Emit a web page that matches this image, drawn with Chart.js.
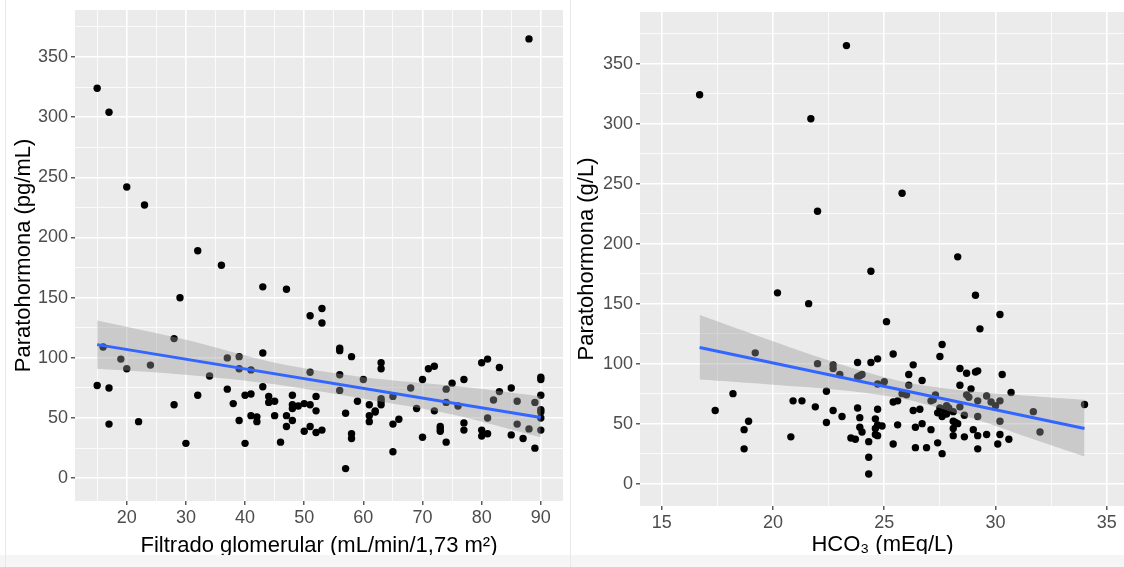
<!DOCTYPE html>
<html>
<head>
<meta charset="utf-8">
<script src="https://cdn.jsdelivr.net/npm/chart.js@4.4.1/dist/chart.umd.min.js"></script>
<style>
    html, body { margin: 0; padding: 0; background: #ffffff; width: 1124px; height: 567px; overflow: hidden; }
    body { position: relative; font-family: "Liberation Sans", Arial, sans-serif; }
    #leftBox { position: absolute; left: 6px; top: 0; width: 565px; height: 555px; }
    #rightBox { position: absolute; left: 571px; top: 0; width: 558px; height: 554px; }
    .strip { position: absolute; left: 0; top: 555px; width: 1124px; height: 12px; background: #f5f5f5; }
    .edge { position: absolute; top: 0; width: 1px; height: 567px; background: #e8e8e8; }
</style>
</head>
<body>
<div class="strip"></div>
<div class="edge" style="left:5px"></div>
<div class="edge" style="left:570px"></div>
<div id="leftBox"><canvas id="gfrChart"></canvas></div>
<div id="rightBox"><canvas id="hco3Chart"></canvas></div>

<script>
// Left panel: filtrado glomerular vs PTH
const gfrX = [88, 15, 17, 20, 23, 32, 36, 29, 43, 47, 51, 53, 53, 28, 15, 16, 17, 17, 19, 20,
    22, 24, 28, 30, 32, 34, 37, 37, 38, 39, 39, 39, 40, 40, 41, 41, 41, 42, 42, 43,
    43, 44, 44, 45, 45, 46, 47, 47, 48, 48, 48, 48, 49, 50, 50, 51, 51, 51, 52, 52,
    52, 53, 56, 56, 56, 56, 57, 57, 58, 58, 58, 59, 60, 61, 61, 61, 62, 62, 63, 63,
    63, 63, 63, 65, 65, 65, 66, 68, 69, 70, 70, 71, 72, 72, 73, 73, 73, 74, 74, 74,
    75, 76, 77, 77, 77, 80, 80, 80, 81, 81, 81, 82, 83, 83, 85, 85, 86, 86, 87, 88,
    89, 89, 90, 90, 90, 90, 90, 90, 90];
const gfrPth = [365, 324, 304, 242, 227, 189, 177, 150, 159, 157, 135, 141, 129, 116, 77, 109, 75, 45, 99, 91,
    47, 94, 61, 29, 69, 85, 100, 74, 62, 101, 91, 48, 69, 29, 70, 90, 52, 51, 47, 104,
    76, 68, 63, 64, 52, 30, 52, 43, 69, 61, 58, 48, 60, 62, 39, 88, 61, 43, 68, 56,
    38, 40, 108, 106, 86, 73, 54, 8, 101, 37, 33, 64, 82, 61, 52, 47, 56, 55, 96, 91,
    66, 64, 61, 68, 45, 22, 49, 75, 58, 82, 34, 91, 93, 56, 43, 41, 39, 74, 63, 30,
    79, 60, 82, 46, 40, 96, 40, 35, 99, 50, 37, 65, 92, 72, 75, 36, 64, 45, 33, 41,
    63, 25, 84, 82, 69, 57, 55, 50, 40];
const gfrFitX = [15, 90];
const gfrFitY = [111, 50.5];
const gfrBandX = [15, 30, 45, 60, 75, 90];
const gfrBandHigh = [131, 115, 96, 84, 77, 68];
const gfrBandLow = [91, 86, 78, 66, 53, 34];
const gfrMajor = [20, 30, 40, 50, 60, 70, 80, 90];
const gfrMinor = [15, 25, 35, 45, 55, 65, 75, 85];

// Right panel: HCO3 vs PTH
const hco3X = [23.3, 16.7, 21.7, 25.8, 22.0, 28.3, 24.4, 20.2, 29.1, 21.6, 30.2, 25.1, 29.3, 27.6, 25.4, 19.2,
    27.5, 22.0, 22.7, 22.7, 23.8, 24.4, 24.7, 26.3, 28.4, 23.0, 24.0, 23.8, 26.1, 28.7, 29.1, 29.2,
    30.3, 24.7, 25.0, 26.1, 26.7, 28.4, 28.9, 22.4, 18.2, 25.8, 26.0, 27.3, 28.7, 30.7, 29.6, 28.8,
    20.9, 21.3, 25.4, 25.6, 27.1, 27.2, 29.2, 29.8, 30.2, 34.0, 30.0, 27.8, 28.4, 21.9, 23.8, 24.7,
    26.3, 26.6, 22.7, 17.4, 27.5, 27.7, 27.9, 27.4, 27.8, 31.7, 28.1, 27.6, 28.6, 29.2, 23.1, 23.9,
    24.6, 18.9, 22.4, 28.1, 28.2, 30.2, 28.3, 26.7, 25.6, 24.7, 24.9, 23.9, 26.4, 28.1, 24.6, 18.7,
    29.0, 27.1, 24.0, 32.0, 29.6, 30.2, 24.6, 29.2, 28.1, 24.7, 20.8, 28.6, 23.5, 23.7, 30.6, 24.3,
    27.4, 25.4, 30.1, 26.4, 26.9, 18.7, 29.2, 27.6, 24.3, 24.3, 23.9];
const hco3Pth = [365, 324, 304, 242, 227, 189, 177, 159, 157, 150, 141, 135, 129, 116, 108, 109,
    106, 100, 99, 96, 101, 101, 104, 99, 96, 91, 91, 89, 91, 92, 93, 94,
    91, 83, 85, 82, 86, 82, 79, 77, 75, 75, 74, 74, 74, 76, 73, 72,
    69, 69, 68, 69, 69, 70, 69, 68, 69, 66, 65, 65, 64, 64, 63, 62,
    61, 62, 61, 61, 63, 61, 63, 59, 58, 60, 60, 56, 57, 56, 56, 55,
    54, 52, 51, 52, 51, 52, 50, 50, 49, 49, 48, 47, 47, 46, 46, 45,
    45, 45, 43, 43, 41, 41, 41, 40, 40, 40, 39, 39, 38, 37, 37, 35,
    34, 33, 33, 30, 30, 29, 29, 25, 22, 8, 90];
const hco3FitX = [16.7, 34];
const hco3FitY = [113.5, 46];
const hco3BandX = [16.7, 20, 23, 26, 29, 32, 34];
const hco3BandHigh = [140.5, 118.7, 99.7, 84.2, 76.7, 72.5, 70];
const hco3BandLow = [86.7, 82.5, 78.1, 70.2, 54.3, 35.1, 22.7];
const hco3Major = [15, 20, 25, 30, 35];
const hco3Minor = [17.5, 22.5, 27.5, 32.5];

const pthMajor = [0, 50, 100, 150, 200, 250, 300, 350];
const pthMinor = [25, 75, 125, 175, 225, 275, 325, 375];

const FONT = '"Liberation Sans", Arial, Helvetica, sans-serif';

// grey panel like ggplot
const panelBg = {
    id: 'panelBg',
    beforeDraw(chart) {
        const { ctx, chartArea } = chart;
        ctx.save();
        ctx.fillStyle = '#ebebeb';
        ctx.fillRect(chartArea.left, chartArea.top, chartArea.right - chartArea.left, chartArea.bottom - chartArea.top);
        ctx.restore();
    }
};

function toPoints(xs, ys) {
    return xs.map((x, i) => ({ x: x, y: ys[i] }));
}

function axis(major, minor, min, max, title, horizontal, boxSize, titlePad) {
    const all = major.concat(minor).sort((a, b) => a - b);
    return {
        type: 'linear',
        min: min,
        max: max,
        afterBuildTicks: scale => { scale.ticks = all.map(v => ({ value: v })); },
        afterFit: scale => {
            if (horizontal) scale.height = boxSize; else scale.width = boxSize;
            // keep the panel edges where they are
            scale.paddingLeft = 0; scale.paddingRight = 0;
            scale.paddingTop = 0; scale.paddingBottom = 0;
        },
        grid: {
            color: '#ffffff',
            lineWidth: c => major.includes(c.tick.value) ? 1.6 : 0.8,
            drawTicks: true,
            tickLength: 4,
            tickWidth: 1.2,
            tickColor: c => major.includes(c.tick.value) ? '#333333' : 'rgba(0,0,0,0)'
        },
        border: { display: false },
        ticks: {
            autoSkip: false,
            maxRotation: 0,
            padding: horizontal ? 2 : 3,
            color: '#4d4d4d',
            font: { family: FONT, size: 18 },
            callback: v => major.includes(v) ? String(v) : ''
        },
        title: {
            display: true,
            text: title,
            color: '#000000',
            padding: horizontal ? { top: 0, bottom: titlePad } : { top: titlePad, bottom: 0 },
            font: { family: FONT, size: 22, lineHeight: 1 }
        }
    };
}

function makeChart(id, pts, fitX, fitY, bandX, bandHigh, bandLow, xScale, yScale, pad) {
    return new Chart(document.getElementById(id), {
        type: 'scatter',
        data: {
            datasets: [
                {
                    data: toPoints(fitX, fitY),
                    showLine: true,
                    borderColor: '#3366ff',
                    borderWidth: 3,
                    pointRadius: 0
                },
                {
                    data: toPoints(bandX, bandHigh),
                    showLine: true,
                    borderWidth: 0,
                    borderColor: 'rgba(0,0,0,0)',
                    pointRadius: 0,
                    tension: 0.3,
                    backgroundColor: 'rgba(153,153,153,0.4)',
                    fill: '+1'
                },
                {
                    data: toPoints(bandX, bandLow),
                    showLine: true,
                    borderWidth: 0,
                    borderColor: 'rgba(0,0,0,0)',
                    tension: 0.3,
                    pointRadius: 0
                },
                {
                    data: pts,
                    pointRadius: 3.7,
                    pointBackgroundColor: '#000000',
                    pointBorderWidth: 0
                }
            ]
        },
        options: {
            responsive: true,
            maintainAspectRatio: false,
            devicePixelRatio: 1,
            animation: false,
            events: [],
            layout: { padding: pad },
            plugins: { legend: { display: false }, tooltip: { enabled: false } },
            scales: { x: xScale, y: yScale }
        },
        plugins: [panelBg]
    });
}

makeChart('gfrChart', toPoints(gfrX, gfrPth), gfrFitX, gfrFitY, gfrBandX, gfrBandHigh, gfrBandLow,
    axis(gfrMajor, gfrMinor, 11.25, 93.75, 'Filtrado glomerular (mL/min/1,73 m²)', true, 54, -2),
    axis(pthMajor, pthMinor, -18.9, 389, 'Paratohormona (pg/mL)', false, 69, 7),
    { top: 10, right: 8, left: 0, bottom: 0 });

makeChart('hco3Chart', toPoints(hco3X, hco3Pth), hco3FitX, hco3FitY, hco3BandX, hco3BandHigh, hco3BandLow,
    axis(hco3Major, hco3Minor, 14.02, 35.82, 'HCO₃ (mEq/L)', true, 48, -2),
    axis(pthMajor, pthMinor, -18.6, 393, 'Paratohormona (g/L)', false, 69, 5),
    { top: 12, right: 0, left: 0, bottom: 0 });
</script>
</body>
</html>
